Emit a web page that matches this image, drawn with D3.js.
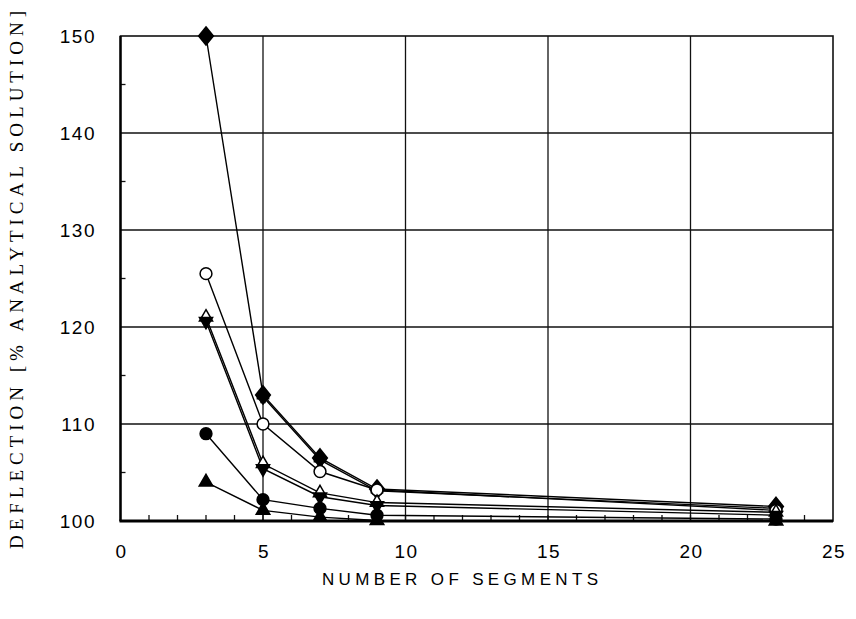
<!DOCTYPE html>
<html>
<head>
<meta charset="utf-8">
<script src="https://cdn.jsdelivr.net/npm/d3@7/dist/d3.min.js"></script>
<style>
    body { margin: 0; background: #fff; }
    svg { display: block; }
</style>
</head>
<body>
<div id="viz"></div>
<script>
// segments on the x axis
let segments = [3, 5, 7, 9, 23];

// deflection in % of the analytical solution, one array per marker
let diamondVals  = [150, 113, 106.5, 103.3, 101.5];
let crossVals    = [null, 112.8, 106.3, 103.1, 101.3];
let openCircVals = [125.5, 110, 105.1, 103.2, 101.1];
let openTriVals  = [121, 105.9, 102.9, 101.9, 100.9];
let downTriVals  = [120.6, 105.4, 102.5, 101.6, 100.6];
let dotVals      = [109, 102.2, 101.3, 100.6, 100.2];
let triVals      = [104, 101.1, 100.4, 100.05, 100];

let xTicks = [0, 5, 10, 15, 20, 25];
let yTicks = [100, 110, 120, 130, 140, 150];

let series = [
    {name: 'diamond', values: diamondVals, symbol: d3.symbolDiamond, size: 90, fill: 'black', rot: 0, sx: 1.4},
    {name: 'cross', values: crossVals, symbol: d3.symbolCross, size: 70, fill: 'black', rot: 0, sx: 1},
    {name: 'openCircle', values: openCircVals, symbol: d3.symbolCircle, size: 110, fill: 'white', rot: 0, sx: 1},
    {name: 'openTri', values: openTriVals, symbol: d3.symbolTriangle, size: 75, fill: 'white', rot: 0, sx: 1},
    {name: 'downTri', values: downTriVals, symbol: d3.symbolTriangle, size: 75, fill: 'black', rot: 180, sx: 1},
    {name: 'dot', values: dotVals, symbol: d3.symbolCircle, size: 110, fill: 'black', rot: 0, sx: 1},
    {name: 'tri', values: triVals, symbol: d3.symbolTriangle, size: 80, fill: 'black', rot: 0, sx: 1}
];

window.onload = function () {
    let width = 856, height = 619;

    let svg = d3.select('#viz')
        .append('svg')
        .attr('width', width)
        .attr('height', height);

    let x = d3.scaleLinear().domain([0, 25]).range([120.5, 833]);
    let y = d3.scaleLinear().domain([100, 150]).range([521, 36]);

    // grid
    svg.append('g')
        .selectAll('line')
        .data(xTicks.slice(1, -1))
        .enter()
        .append('line')
        .attr('x1', d => x(d)).attr('x2', d => x(d))
        .attr('y1', y(150)).attr('y2', y(100))
        .attr('stroke', '#111').attr('stroke-width', 1.3);

    svg.append('g')
        .selectAll('line')
        .data(yTicks.slice(1, -1))
        .enter()
        .append('line')
        .attr('x1', x(0)).attr('x2', x(25))
        .attr('y1', d => y(d)).attr('y2', d => y(d))
        .attr('stroke', '#111').attr('stroke-width', 1.3);

    // minor ticks
    svg.append('g')
        .selectAll('line')
        .data(d3.range(1, 25))
        .enter()
        .append('line')
        .attr('x1', d => x(d)).attr('x2', d => x(d))
        .attr('y1', y(100)).attr('y2', y(100) - 6)
        .attr('stroke', '#111').attr('stroke-width', 1.3);

    svg.append('g')
        .selectAll('line')
        .data(d3.range(105, 150, 10))
        .enter()
        .append('line')
        .attr('x1', x(0)).attr('x2', x(0) + 5)
        .attr('y1', d => y(d)).attr('y2', d => y(d))
        .attr('stroke', '#111').attr('stroke-width', 1.3);

    // frame
    svg.append('rect')
        .attr('x', x(0)).attr('y', y(150))
        .attr('width', x(25) - x(0)).attr('height', y(100) - y(150))
        .attr('fill', 'none').attr('stroke', '#111').attr('stroke-width', 1.6);
    svg.append('line')
        .attr('x1', x(0) - 1).attr('x2', x(25))
        .attr('y1', y(100)).attr('y2', y(100))
        .attr('stroke', '#000').attr('stroke-width', 3);
    svg.append('line')
        .attr('x1', x(0)).attr('x2', x(0))
        .attr('y1', y(150)).attr('y2', y(100))
        .attr('stroke', '#000').attr('stroke-width', 2.4);

    // tick labels
    svg.append('g')
        .selectAll('text')
        .data(yTicks)
        .enter()
        .append('text')
        .attr('x', 96)
        .attr('y', d => y(d) + 7)
        .attr('text-anchor', 'end')
        .style('font-family', 'Liberation Sans, Arial, sans-serif')
        .style('font-size', '19px')
        .style('letter-spacing', '1.5px')
        .text(d => d);

    svg.append('g')
        .selectAll('text')
        .data(xTicks)
        .enter()
        .append('text')
        .attr('x', d => x(d) + 1)
        .attr('y', 558)
        .attr('text-anchor', 'middle')
        .style('font-family', 'Liberation Sans, Arial, sans-serif')
        .style('font-size', '19px')
        .style('letter-spacing', '1.5px')
        .text(d => d);

    // axis titles
    svg.append('text')
        .attr('x', 460)
        .attr('y', 585)
        .attr('text-anchor', 'middle')
        .attr('textLength', 276)
        .attr('lengthAdjust', 'spacing')
        .style('font-family', 'Liberation Sans, Arial, sans-serif')
        .style('font-size', '17px')
        .text('NUMBER OF SEGMENTS');

    svg.append('text')
        .attr('transform', 'translate(23,' + 280 + ') rotate(-90)')
        .attr('text-anchor', 'middle')
        .attr('textLength', 538)
        .attr('lengthAdjust', 'spacing')
        .style('font-family', 'Liberation Serif, Times New Roman, serif')
        .style('font-size', '19px')
        .text('DEFLECTION [% ANALYTICAL SOLUTION]');

    // lines
    let line = d3.line()
        .defined(d => d.v !== null)
        .x(d => x(d.s))
        .y(d => y(d.v));

    for (let s of series) {
        let pts = segments.map((sg, i) => ({s: sg, v: s.values[i]}));
        svg.append('path')
            .datum(pts)
            .attr('d', line)
            .attr('fill', 'none')
            .attr('stroke', '#000')
            .attr('stroke-width', 1.4);
    }

    // markers
    for (let s of series) {
        let pts = segments.map((sg, i) => ({s: sg, v: s.values[i]})).filter(d => d.v !== null);
        svg.append('g')
            .selectAll('path')
            .data(pts)
            .enter()
            .append('path')
            .attr('d', d3.symbol().type(s.symbol).size(s.size))
            .attr('transform', d => 'translate(' + x(d.s) + ',' + y(d.v) + ') rotate(' + s.rot + ') scale(' + s.sx + ',1)')
            .attr('fill', s.fill)
            .attr('stroke', '#000')
            .attr('stroke-width', 1.5);
    }
};
</script>
</body>
</html>
